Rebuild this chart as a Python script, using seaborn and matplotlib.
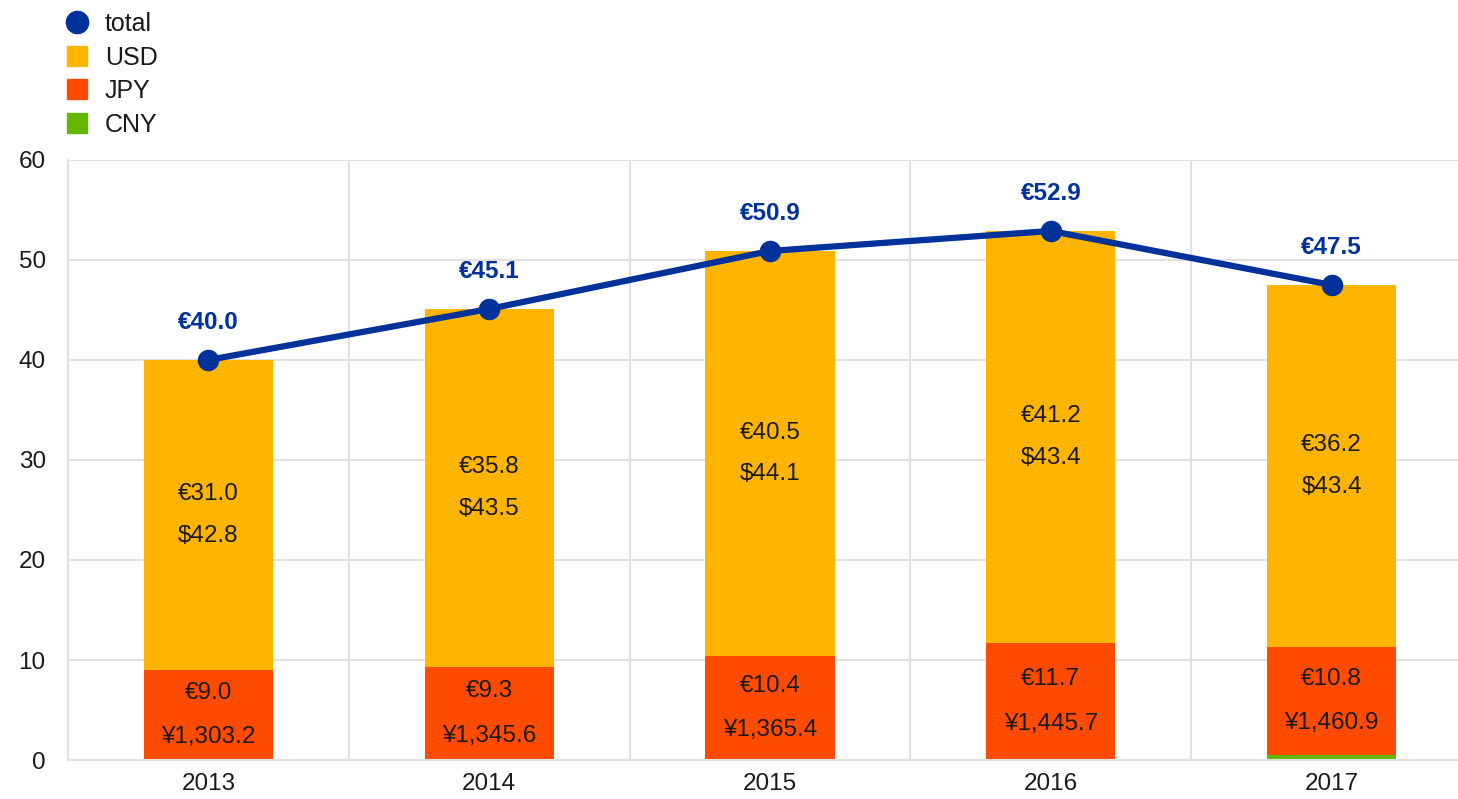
import numpy as np
import pandas as pd
import matplotlib
matplotlib.use('Agg')
import matplotlib.pyplot as plt
from matplotlib.lines import Line2D
import seaborn as sns

sns.set_theme(style='white')
plt.rcParams['font.family'] = ['Liberation Sans', 'DejaVu Sans']

## Data.
years = ['2013', '2014', '2015', '2016', '2017']
usd_eur = [31.0, 35.8, 40.5, 41.2, 36.2]
usd_native = [42.8, 43.5, 44.1, 43.4, 43.4]
jpy_eur = [9.0, 9.3, 10.4, 11.7, 10.8]
jpy_native = [1303.2, 1345.6, 1365.4, 1445.7, 1460.9]
cny_eur = [0.0, 0.0, 0.0, 0.0, 0.5]
total = [40.0, 45.1, 50.9, 52.9, 47.5]

## Colours.
c_usd = '#FFB400'
c_jpy = '#FF4B00'
c_cny = '#65B800'
c_total = '#003299'
gridcolor = '#e1e1e1'
textcolor = '#1a1a1a'

df = pd.DataFrame({'year': years, 'usd': usd_eur, 'jpy': jpy_eur, 'cny': cny_eur})
df['cny_top'] = df['cny']
df['jpy_top'] = df['cny'] + df['jpy']
df['usd_top'] = df['jpy_top'] + df['usd']

fig = plt.figure(figsize=(14.58, 7.99), dpi=100)
ax = fig.add_axes([0.0466, 0.0488, 0.9534, 0.751])

## Stacked bars (drawn from the top layer down).
for col, color in [('usd_top', c_usd), ('jpy_top', c_jpy), ('cny_top', c_cny)]:
    sns.barplot(data=df, x='year', y=col, color=color, width=0.46, saturation=1,
                linewidth=0, ax=ax, zorder=2)

## Total line.
sns.lineplot(x=np.arange(len(years)), y=total, color=c_total, lw=4.5, marker='o',
             markersize=15.5, markeredgewidth=0, ax=ax, zorder=4)

## Labels.
fs = 17.5
for i in range(len(years)):
    usd_mid = df['jpy_top'][i] + usd_eur[i] / 2
    jpy_mid = df['cny_top'][i] + jpy_eur[i] / 2
    ax.annotate(f'€{usd_eur[i]:.1f}', (i, usd_mid), xytext=(0, 15), textcoords='offset points',
                ha='center', va='center', fontsize=fs, color=textcolor, zorder=5)
    ax.annotate(f'${usd_native[i]:.1f}', (i, usd_mid), xytext=(0, -15), textcoords='offset points',
                ha='center', va='center', fontsize=fs, color=textcolor, zorder=5)
    ax.annotate(f'€{jpy_eur[i]:.1f}', (i, jpy_mid), xytext=(0, 16), textcoords='offset points',
                ha='center', va='center', fontsize=fs, color=textcolor, zorder=5)
    ax.annotate(f'¥{jpy_native[i]:,.1f}', (i, jpy_mid), xytext=(0, -16), textcoords='offset points',
                ha='center', va='center', fontsize=fs, color=textcolor, zorder=5)
    ax.annotate(f'€{total[i]:.1f}', (i, total[i]), xytext=(0, 27), textcoords='offset points',
                ha='center', va='center', fontsize=fs, fontweight='bold', color=c_total, zorder=5)

## Axes.
ax.set_yticks(np.arange(0, 61, 10))
ax.set_xticks(np.arange(len(years)))
ax.set_xticklabels(years)
ax.set_xticks(np.arange(-0.5, 4.6, 1), minor=True)
ax.set(xlim=(-0.5, 4.45), ylim=(0, 60), xlabel='', ylabel='')
ax.tick_params(axis='both', which='both', length=0, labelsize=17.5, labelcolor=textcolor)
ax.tick_params(axis='x', pad=9)
ax.tick_params(axis='y', pad=16)
ax.grid(True, axis='y', color=gridcolor, lw=1.5, zorder=0)
ax.grid(True, axis='x', which='minor', color=gridcolor, lw=1.5, zorder=0)
ax.grid(False, axis='x', which='major')
ax.set_axisbelow(True)
for s in ['top', 'right']:
    ax.spines[s].set_visible(False)
for s in ['left', 'bottom']:
    ax.spines[s].set(color=gridcolor, linewidth=1.5)

## Legend.
handles = [
    Line2D([], [], color=c_total, marker='o', markersize=16, ls='none', label='total'),
    Line2D([], [], color=c_usd, marker='s', markersize=15, ls='none', label='USD'),
    Line2D([], [], color=c_jpy, marker='s', markersize=15, ls='none', label='JPY'),
    Line2D([], [], color=c_cny, marker='s', markersize=15, ls='none', label='CNY'),
]
fig.legend(handles=handles, loc='upper left', bbox_to_anchor=(0.029, 1.01), frameon=False,
           fontsize=18, labelcolor=textcolor, labelspacing=0.38, handletextpad=0.5,
           handlelength=1.2, borderpad=0.3)

fig.savefig('out.png', dpi=100)
